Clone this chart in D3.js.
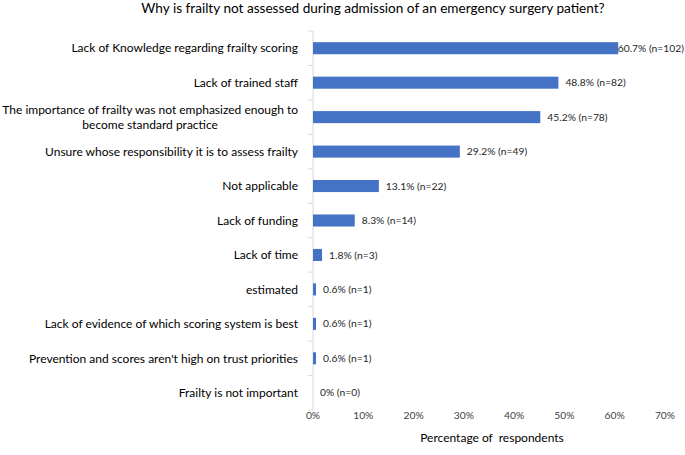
<!DOCTYPE html>
<html><head><meta charset="utf-8">
<script src="https://cdn.jsdelivr.net/npm/d3@7"></script>
<style>body{margin:0;background:#fff}svg{display:block}</style>
</head><body><div id="chart"></div>
<script>
const categories = [
  "Lack of Knowledge regarding frailty scoring",
  "Lack of trained staff",
  "The importance of frailty was not emphasized enough to|become standard practice",
  "Unsure whose responsibility it is to assess frailty",
  "Not applicable",
  "Lack of funding",
  "Lack of time",
  "estimated",
  "Lack of evidence of which scoring system is best",
  "Prevention and scores aren't high on trust priorities",
  "Frailty is not important"
];
const percents = [60.7, 48.8, 45.2, 29.2, 13.1, 8.3, 1.8, 0.6, 0.6, 0.6, 0];
const counts = [102, 82, 78, 49, 22, 14, 3, 1, 1, 1, 0];
const xTicks = [0, 10, 20, 30, 40, 50, 60, 70];
const title = "Why is frailty not assessed during admission of an emergency surgery patient?";
const xTitle = "Percentage of  respondents";

const W = 685, H = 455;
const font = "Lato, 'Open Sans', sans-serif";
const svg = d3.select("#chart").append("svg").attr("width", W).attr("height", H);

const x = d3.scaleLinear().domain([0, 70]).range([313, 665]);
const y = d3.scaleBand().domain(categories).range([31, 410]).paddingInner(0.65).paddingOuter(0.325);

svg.append("text").attr("x", 373).attr("y", 12.5).attr("text-anchor", "middle")
  .attr("font-family", font).attr("font-size", 13.6).attr("fill", "#000").text(title);

// category axis line and ticks
const band = y.step();
svg.append("line").attr("x1", x(0)).attr("x2", x(0)).attr("y1", 31).attr("y2", 410)
  .attr("stroke", "#d9d9d9").attr("stroke-width", 1);
d3.range(categories.length + 1).forEach(i => {
  const yy = 31 + i * band;
  svg.append("line").attr("x1", x(0) - 5).attr("x2", x(0)).attr("y1", yy).attr("y2", yy)
    .attr("stroke", "#d9d9d9").attr("stroke-width", 1);
});

// bars
svg.selectAll("rect.bar").data(categories).join("rect").attr("class", "bar")
  .attr("x", x(0)).attr("y", d => y(d)).attr("height", y.bandwidth())
  .attr("width", (d, i) => x(percents[i]) - x(0)).attr("fill", "#4472C4");

// category labels
categories.forEach((c, i) => {
  const lines = c.split("|");
  const cy = y(c) + y.bandwidth() / 2;
  const t = svg.append("text").attr("font-family", font).attr("font-size", 12).attr("fill", "#000");
  lines.forEach((l, j) => {
    t.append("tspan").attr("x", 0).attr("y", cy + (j - (lines.length - 1) / 2) * 15.5 + 4.2).text(l);
  });
  const widths = t.selectAll("tspan").nodes().map(n => n.getComputedTextLength());
  const maxW = d3.max(widths);
  const cx = Math.max(298 - maxW / 2, maxW / 2 + 1);
  t.attr("text-anchor", "middle").selectAll("tspan").attr("x", cx);
});

// data labels
categories.forEach((c, i) => {
  const t = svg.append("text").attr("font-family", font).attr("font-size", 10.3).attr("fill", "#262626")
    .attr("y", y(c) + y.bandwidth() / 2 + 3.6)
    .text(`${percents[i]}% (n=${counts[i]})`);
  const w = t.node().getComputedTextLength();
  let xx = x(percents[i]) + 7;
  if (xx + w > W - 1) xx = W - 1 - w;
  t.attr("x", xx);
});

// x tick labels
svg.selectAll("text.xt").data(xTicks).join("text").attr("class", "xt")
  .attr("x", d => x(d)).attr("y", 419).attr("text-anchor", "middle")
  .attr("font-family", font).attr("font-size", 10.3).attr("fill", "#404040").text(d => d + "%");

svg.append("text").attr("x", 492).attr("y", 442).attr("text-anchor", "middle")
  .attr("font-family", font).attr("font-size", 12).attr("fill", "#000").attr("xml:space", "preserve")
  .style("white-space", "pre").text(xTitle);
</script></body></html>
